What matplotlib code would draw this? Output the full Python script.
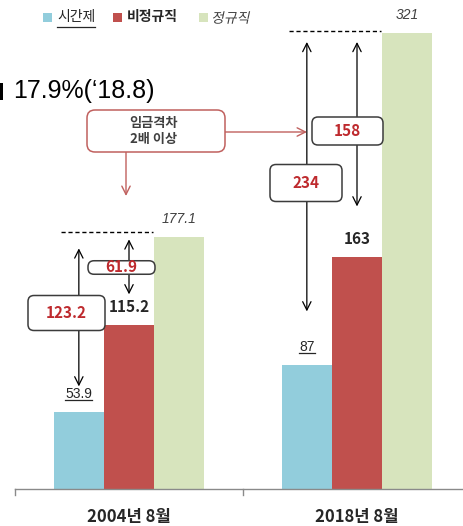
import matplotlib
matplotlib.use('Agg')
import matplotlib.pyplot as plt
import numpy as np
from matplotlib.patches import FancyBboxPatch, Rectangle, PathPatch, FancyArrowPatch
from matplotlib.lines import Line2D
from matplotlib.textpath import TextPath
from matplotlib.font_manager import FontProperties
from matplotlib.transforms import Affine2D

# ---- data -------------------------------------------------------------
categories = ['2004년 8월', '2018년 8월']
series_names = ['시간제', '비정규직', '정규직']
parttime = [53.9, 87]
nonregular = [115.2, 163]
regular = [177.1, 321]
value_fmt = ['{:.1f}', '{:.0f}']
headline = "17.9%(\u201818.8)"
callout = '임금격차\n2배 이상'

# ---- style ------------------------------------------------------------
W, H, DPI = 464, 526, 100
BLUE, RED, GREEN = '#92CDDC', '#C0504D', '#D7E4BD'
GAP_RED = '#BE2A2E'
CALLOUT = '#C0605E'
INK = '#262626'
KR = ['Noto Sans CJK KR', 'DejaVu Sans']
LAT = ['Liberation Sans', 'DejaVu Sans']

fig = plt.figure(figsize=(W / DPI, H / DPI), dpi=DPI)
ax = fig.add_axes([0, 0, 1, 1])
ax.set_xlim(-0.5658, 1.4693)
ax.set_ylim(-26.05, 344.2)
ax.axis('off')
PX = H / (344.2 + 26.05)          # pixels per value unit


def u(px):
    """pixels -> value units"""
    return px / PX


def P(x, y):
    """top-left pixel position -> inches for fig.dpi_scale_trans"""
    return x / DPI, (H - y) / DPI


def ftext(x, y, s, **kw):
    return fig.text(*P(x, y), s, transform=fig.dpi_scale_trans, **kw)


def rbox(cx, cy, w, h, ec, lw=1.1, r=6):
    x0, y0 = P(cx - w / 2, cy + h / 2)
    fig.add_artist(FancyBboxPatch((x0, y0), w / DPI, h / DPI,
                                  boxstyle=f'round,pad=0,rounding_size={r / DPI}',
                                  transform=fig.dpi_scale_trans,
                                  fc='white', ec=ec, lw=lw, zorder=5))


renderer = fig.canvas.get_renderer()


def underline(txt, y_disp, color=INK):
    bb = txt.get_window_extent(renderer)
    fig.add_artist(Line2D([bb.x0 / DPI, bb.x1 / DPI], [y_disp / DPI, y_disp / DPI],
                          transform=fig.dpi_scale_trans, color=color, lw=0.9))


# ---- bars -------------------------------------------------------------
x = np.arange(len(categories))
bw = 0.22
ax.bar(x - bw, parttime, bw, color=BLUE, lw=0)
ax.bar(x, nonregular, bw, color=RED, lw=0)
ax.bar(x + bw, regular, bw, color=GREEN, lw=0)

# baseline axis with category separators
ax.plot([-0.5, 1.6], [0, 0], color='#8a8a8a', lw=1.0, clip_on=False)
for xt in [-0.5, 0.5]:
    ax.plot([xt, xt], [0, -u(6)], color='#8a8a8a', lw=1.0)
for i, cat in enumerate(categories):
    ax.text(i, -u(28), cat, ha='center', va='center', fontsize=12,
            fontweight='bold', family=KR, color=INK)

# ---- value labels -----------------------------------------------------
for i in range(len(categories)):
    fmt = value_fmt[i]
    t = ax.annotate(fmt.format(parttime[i]), (i - bw, parttime[i]),
                    xytext=(0, 14 * 72 / DPI), textcoords='offset points',
                    ha='center', va='baseline', fontsize=10, family=LAT, color=INK)
    yb = ax.transData.transform((0, parttime[i]))[1] + 14 - 1.8
    underline(t, yb)
    ax.annotate(fmt.format(nonregular[i]), (i, nonregular[i]),
                xytext=(0, 18 * 72 / DPI), textcoords='offset points',
                ha='center', va='center', fontsize=11, fontweight='bold',
                family=KR, color=INK)
    ax.annotate(fmt.format(regular[i]), (i + bw, regular[i]),
                xytext=(0, 18 * 72 / DPI), textcoords='offset points',
                ha='center', va='center', fontsize=10, style='italic',
                family=LAT, color='#404040')

# ---- gap arrows -------------------------------------------------------
dash_pad = [5.5, 1.5]
tall_pad = [(26, 11), (54, 9)]
short_pad = [(31, 2), (51, 9)]
arrow_kw = dict(arrowstyle='<->,head_length=0.6,head_width=0.3', color='black',
                lw=0.9, shrinkA=0, shrinkB=0)
gap_boxes_tall = [(66.5, 313, 77, 35), (306, 183, 72, 37)]
gap_boxes_short = [(121.5, 267.5, 67, 13.5), (347.5, 131, 71, 28)]
for i in range(len(categories)):
    fmt = value_fmt[i]
    top = regular[i]
    ax.plot([i - 0.30, i + 0.105], [top + u(dash_pad[i])] * 2, color='black',
            lw=1.0, ls=(0, (3, 2)))
    ax.annotate('', xy=(i - bw, top - u(tall_pad[i][1])),
                xytext=(i - bw, parttime[i] + u(tall_pad[i][0])), arrowprops=arrow_kw)
    ax.annotate('', xy=(i, top - u(short_pad[i][1])),
                xytext=(i, nonregular[i] + u(short_pad[i][0])), arrowprops=arrow_kw)

    for (cx, cy, w, h), gap in [(gap_boxes_tall[i], top - parttime[i]),
                                (gap_boxes_short[i], top - nonregular[i])]:
        rbox(cx, cy, w, h, ec='#3c3c3c', lw=1.1, r=6)
        ftext(cx, cy, fmt.format(gap), ha='center', va='center', fontsize=11,
              fontweight='bold', family=KR, color=GAP_RED, zorder=6)

# ---- callout ----------------------------------------------------------
rbox(156, 131, 138, 42, ec=CALLOUT, lw=1.1, r=8)
ftext(154, 131, callout, ha='center', va='center', fontsize=9.5,
      fontweight='bold', family=KR, color='#404040', linespacing=1.15, zorder=6)
c_kw = dict(arrowstyle='->,head_length=0.6,head_width=0.3', color=CALLOUT,
            lw=1.0, shrinkA=0, shrinkB=0)
fig.add_artist(FancyArrowPatch(P(225, 132), P(307, 132),
               transform=fig.dpi_scale_trans, mutation_scale=10, **c_kw))
fig.add_artist(FancyArrowPatch(P(126, 152), P(126, 196),
               transform=fig.dpi_scale_trans, mutation_scale=10, **c_kw))

# ---- headline ---------------------------------------------------------
fig.add_artist(Rectangle(P(0, 100), 2.6 / DPI, 17 / DPI, transform=fig.dpi_scale_trans,
                         fc='black', lw=0))
ftext(13, 91, headline, ha='left', va='center', fontsize=18, family=LAT, color='black')

# ---- legend -----------------------------------------------------------
leg_sq = [43, 113, 199]
leg_tx = [57, 127, 213]
leg_col = [BLUE, RED, GREEN]
for sx, c in zip(leg_sq, leg_col):
    fig.add_artist(Rectangle(P(sx, 22), 9 / DPI, 9 / DPI, transform=fig.dpi_scale_trans,
                             fc=c, lw=0))
t0 = ftext(leg_tx[0], 17.5, series_names[0], ha='left', va='center', fontsize=10,
           family=KR, color=INK)
underline(t0, H - 27)
ftext(leg_tx[1], 17.5, series_names[1], ha='left', va='center', fontsize=10,
      fontweight='bold', family=KR, color=INK)
# slanted label drawn as a sheared glyph path
fp = FontProperties(family='Noto Sans CJK KR', size=10)
tp = TextPath((0, 0), series_names[2], prop=fp)
ext = tp.get_extents()
lx, ly = P(leg_tx[2], 17.5)
trans = (Affine2D().translate(-ext.x0, -(ext.y0 + ext.y1) / 2).skew_deg(12, 0)
         .scale(1 / 72).translate(lx, ly) + fig.dpi_scale_trans)
fig.add_artist(PathPatch(tp, transform=trans, fc='#404040', lw=0))

fig.savefig('out.png', dpi=DPI)
